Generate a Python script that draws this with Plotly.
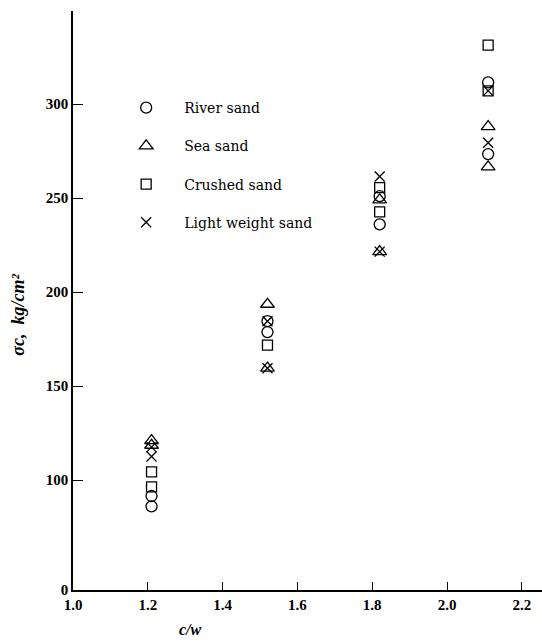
import plotly.graph_objects as go

# Compressive strength of mortar vs cement/water ratio, by type of sand
river_cw = [1.21, 1.21, 1.52, 1.52, 1.82, 1.82, 2.11, 2.11]
river_sc = [91.5, 86.0, 184.5, 178.7, 251.0, 236.0, 311.5, 273.4]

sea_cw = [1.21, 1.21, 1.52, 1.52, 1.82, 1.82, 2.11, 2.11]
sea_sc = [121.0, 118.5, 193.5, 159.5, 249.0, 221.5, 288.0, 266.6]

crushed_cw = [1.21, 1.21, 1.52, 1.82, 1.82, 2.11, 2.11]
crushed_sc = [104.3, 96.4, 171.8, 255.5, 242.6, 331.4, 307.0]

light_cw = [1.21, 1.21, 1.52, 1.52, 1.82, 1.82, 2.11, 2.11]
light_sc = [117.5, 112.5, 184.5, 159.5, 261.5, 221.5, 279.4, 307.0]

x_ticks = [1.0, 1.2, 1.4, 1.6, 1.8, 2.0, 2.2]
x_ticktext = ["1.0", "1.2", "1.4", "1.6", "1.8", "2.0", "2.2"]
# the axis is broken below 100: the baseline is labelled 0
y_base = 41.5
y_ticks = [y_base, 100, 150, 200, 250, 300]
y_ticktext = ["0", "100", "150", "200", "250", "300"]

series = [
    ("River sand", river_cw, river_sc, "circle-open", 11),
    ("Sea sand", sea_cw, sea_sc, "triangle-up-open", 12),
    ("Crushed sand", crushed_cw, crushed_sc, "square-open", 10),
    ("Light weight sand", light_cw, light_sc, "x-thin-open", 10),
]

fig = go.Figure()
for i, (name, xs, ys, sym, sz) in enumerate(series):
    fig.add_trace(go.Scatter(
        x=xs, y=ys, mode="markers", name=name, legendgroup=f"g{i}",
        marker=dict(symbol=sym, size=sz, color="black",
                    line=dict(color="black", width=1.3)),
    ))

serif = "Liberation Serif"
fig.update_layout(
    width=542, height=642,
    margin=dict(l=73, r=0, t=11, b=52),
    paper_bgcolor="white", plot_bgcolor="white",
    showlegend=True,
    legend=dict(
        x=0.075, y=0.86, xanchor="left", yanchor="top",
        traceorder="grouped", tracegroupgap=17,
        itemwidth=66,
        font=dict(family="DejaVu Serif", size=14, color="black"),
        bgcolor="rgba(0,0,0,0)",
    ),
    xaxis=dict(
        range=[1.0, 2.254], tickmode="array", tickvals=x_ticks, ticktext=x_ticktext,
        ticks="inside", ticklen=8, tickwidth=1.2, tickcolor="black",
        showline=True, linecolor="black", linewidth=1.5,
        showgrid=False, zeroline=False,
        tickfont=dict(family=serif, size=15, color="black", weight="bold"),
    ),
    yaxis=dict(
        range=[y_base, 349.5], tickmode="array", tickvals=y_ticks, ticktext=y_ticktext,
        ticks="inside", ticklen=10, tickwidth=1.2, tickcolor="black",
        showline=True, linecolor="black", linewidth=1.5,
        showgrid=False, zeroline=False,
        tickfont=dict(family=serif, size=15, color="black", weight="bold"),
    ),
)

# axis titles
fig.add_annotation(
    text="σc,  kg/cm²", xref="paper", yref="paper",
    x=-0.118, y=(590 - 315) / 579, xanchor="center", yanchor="middle",
    textangle=-90, showarrow=False,
    font=dict(family=serif, size=18, color="black", weight="bold", style="italic"),
)
fig.add_annotation(
    text="c/w", xref="paper", yref="paper", x=(190 - 73) / 469, y=-39 / 579,
    xanchor="center", yanchor="middle", showarrow=False,
    font=dict(family=serif, size=16, color="black", weight="bold", style="italic"),
)

fig.write_html("out.html")
